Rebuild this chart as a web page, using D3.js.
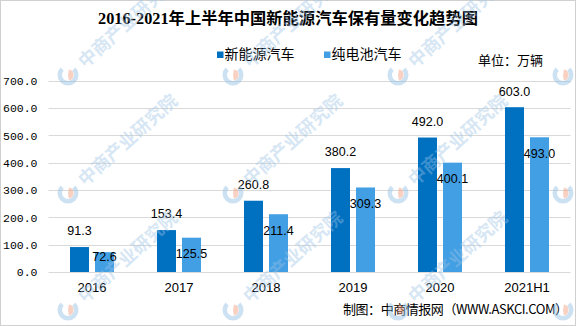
<!DOCTYPE html>
<html>
<head>
<meta charset="utf-8">
<script src="https://cdn.jsdelivr.net/npm/d3@7"></script>
<style>
  html, body { margin: 0; padding: 0; background: #fff; }
  svg { display: block; }
</style>
</head>
<body>
<svg id="chart" width="576" height="326"></svg>
<script>
// Vehicle stock in China, unit: 10k vehicles
const categories = ["2016", "2017", "2018", "2019", "2020", "2021H1"];
const seriesNames = ["新能源汽车", "纯电池汽车"];
const newEnergy = [91.3, 153.4, 260.8, 380.2, 492.0, 603.0];
const batteryElectric = [72.6, 125.5, 211.4, 309.3, 400.1, 493.0];
const yTicks = [0, 100, 200, 300, 400, 500, 600, 700];
const colors = ["#0070C0", "#439FE4"];

const title = "2016-2021年上半年中国新能源汽车保有量变化趋势图";
const unitText = "单位：万辆";
const sourceText = "制图：中商情报网（WWW.ASKCI.COM）";
const watermarkText = "中商产业研究院";

const W = 576, H = 326;
const plot = { left: 48.5, right: 570.5, top: 80.7, bottom: 272 };

const svg = d3.select("#chart");

// outer frame
svg.append("rect")
  .attr("x", 0.5).attr("y", 0.5)
  .attr("width", W - 1).attr("height", H - 1)
  .attr("fill", "#fff").attr("stroke", "#d0d0d0");

const x0 = d3.scaleBand()
  .domain(categories)
  .range([plot.left, plot.right])
  .paddingInner(0.494)
  .paddingOuter(0.247);

const x1 = d3.scaleBand()
  .domain(seriesNames)
  .range([0, x0.bandwidth()])
  .paddingInner(0.24)
  .paddingOuter(0);

const y = d3.scaleLinear().domain([0, 700]).range([plot.bottom, plot.top]);

// gridlines
svg.append("g")
  .selectAll("line")
  .data(yTicks)
  .join("line")
  .attr("x1", plot.left).attr("x2", plot.right)
  .attr("y1", d => Math.round(y(d)) + 0.5)
  .attr("y2", d => Math.round(y(d)) + 0.5)
  .attr("stroke", "#d9d9d9")
  .attr("stroke-width", 1);

// y axis labels
const yAxis = d3.axisLeft(y)
  .tickValues(yTicks)
  .tickFormat(d3.format(".1f"))
  .tickSize(0)
  .tickPadding(11);
const gy = svg.append("g")
  .attr("transform", `translate(${plot.left},0)`)
  .call(yAxis);
gy.select(".domain").remove();
gy.selectAll("text")
  .attr("fill", "#000")
  .style("font-family", "'Liberation Mono', monospace")
  .style("font-size", "11.5px");

// x axis labels
const xAxis = d3.axisBottom(x0).tickSize(0).tickPadding(11);
const gx = svg.append("g")
  .attr("transform", `translate(0,${plot.bottom})`)
  .call(xAxis);
gx.select(".domain").remove();
gx.selectAll("text")
  .attr("fill", "#000")
  .style("font-family", "'Liberation Sans', Arial, sans-serif")
  .style("font-size", "13px");

// bars
const rows = categories.map((c, i) => ({
  cat: c,
  vals: [
    { key: seriesNames[0], v: newEnergy[i], s: 0 },
    { key: seriesNames[1], v: batteryElectric[i], s: 1 }
  ]
}));

const groups = svg.append("g")
  .selectAll("g")
  .data(rows)
  .join("g")
  .attr("transform", d => `translate(${x0(d.cat)},0)`);

groups.selectAll("rect")
  .data(d => d.vals)
  .join("rect")
  .attr("x", d => x1(d.key))
  .attr("width", x1.bandwidth())
  .attr("y", d => y(d.v))
  .attr("height", d => y(0) - y(d.v))
  .attr("fill", d => colors[d.s]);

// value labels: first series above the bar, second series just inside its top
groups.selectAll("text.val")
  .data(d => d.vals)
  .join("text")
  .attr("class", "val")
  .attr("x", d => x1(d.key) + x1.bandwidth() / 2)
  .attr("y", d => d.s === 0 ? y(d.v) - 16 : Math.min(y(d.v) + 16, plot.bottom - 15))
  .attr("dy", "0.35em")
  .attr("text-anchor", "middle")
  .attr("fill", "#000")
  .style("font-family", "'Liberation Sans', Arial, sans-serif")
  .style("font-size", "12.5px")
  .text(d => d3.format(".1f")(d.v));

// title
svg.append("text")
  .attr("x", 288).attr("y", 18)
  .attr("dy", "0.35em")
  .attr("text-anchor", "middle")
  .attr("fill", "#000")
  .style("font-family", "'Liberation Serif', 'Noto Sans CJK SC', serif")
  .style("font-weight", "bold")
  .style("font-size", "16.3px")
  .text(title);

// legend
const legendItems = [
  { name: seriesNames[0], x: 217, color: colors[0] },
  { name: seriesNames[1], x: 324, color: colors[1] }
];
const lg = svg.append("g").selectAll("g").data(legendItems).join("g")
  .attr("transform", d => `translate(${d.x},0)`);
lg.append("rect")
  .attr("x", 0).attr("y", 51.5)
  .attr("width", 6.5).attr("height", 6.5)
  .attr("fill", d => d.color);
lg.append("text")
  .attr("x", 7.5).attr("y", 54.5)
  .attr("dy", "0.35em")
  .attr("fill", "#000")
  .style("font-family", "'Noto Sans CJK SC', sans-serif")
  .style("font-size", "14px")
  .text(d => d.name);

// unit note
svg.append("text")
  .attr("x", 478).attr("y", 60.5)
  .attr("dy", "0.35em")
  .attr("fill", "#000")
  .style("font-family", "'Noto Sans CJK SC', sans-serif")
  .style("font-size", "13px")
  .text(unitText);

// source note
svg.append("text")
  .attr("x", 343).attr("y", 309)
  .attr("dy", "0.35em")
  .attr("textLength", 225)
  .attr("lengthAdjust", "spacing")
  .attr("fill", "#000")
  .style("font-family", "'Noto Sans CJK SC', sans-serif")
  .style("font-size", "13px")
  .text(sourceText);

// watermark pattern (logo + rotated name); rightmost column shows the logo only
const wmCols = [68, 233, 398, 563];
const wmRows = [75, 193, 310];
const wmPos = wmRows.flatMap(r => wmCols.map((c, j) => ({ x: c, y: r, label: j < wmCols.length - 1 })));
const wm = svg.append("g")
  .attr("pointer-events", "none")
  .selectAll("g")
  .data(wmPos)
  .join("g")
  .attr("transform", d => `translate(${d.x},${d.y}) rotate(-42)`);

const ring = d3.arc().innerRadius(6).outerRadius(10.5)
  .startAngle(Math.PI * 0.25).endAngle(Math.PI * 1.75);
const wedge = d3.arc().innerRadius(0).outerRadius(5.5)
  .startAngle(Math.PI * 0.05).endAngle(Math.PI * 0.95);
wm.append("path").attr("d", ring)
  .attr("transform", "rotate(42)")
  .attr("fill", "#8fbde3").attr("opacity", 0.45);
wm.append("path").attr("d", wedge)
  .attr("transform", "rotate(42)")
  .attr("fill", "#f29a7a").attr("opacity", 0.45);
wm.filter(d => d.label).append("text")
  .attr("x", 17).attr("y", 7)
  .attr("fill", "#9cc3e4")
  .attr("opacity", 0.4)
  .style("font-family", "'Noto Sans CJK SC', sans-serif")
  .style("font-weight", "bold")
  .style("font-size", "18px")
  .text(watermarkText);
</script>
</body>
</html>
